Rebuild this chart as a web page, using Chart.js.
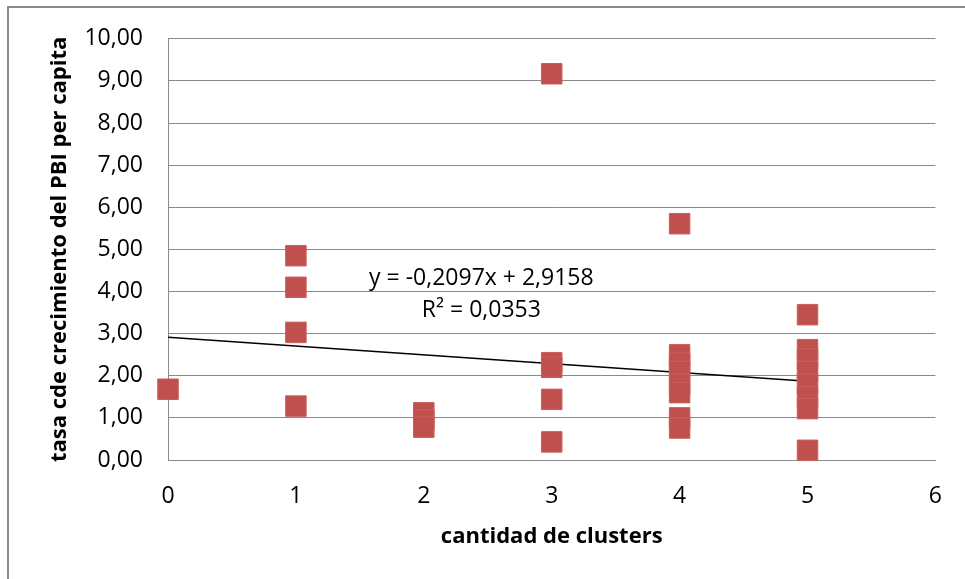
<!DOCTYPE html>
<html>
<head>
<meta charset="utf-8">
<script src="https://cdn.jsdelivr.net/npm/chart.js@4"></script>
<style>
  html, body { margin: 0; padding: 0; background: #fff; }
  #wrap { width: 965px; height: 579px; position: relative; }
</style>
</head>
<body>
<div id="wrap"><canvas id="clusterChart" width="965" height="579"></canvas></div>
<script>
// cantidad de clusters (x) y tasa de crecimiento del PBI per capita (y)
const clusters = [0, 1, 1, 1, 1, 2, 2, 2, 3, 3, 3, 3, 3, 4, 4, 4, 4, 4, 4, 4, 4, 5, 5, 5, 5, 5, 5, 5, 5];
const tasas = [1.68, 4.85, 4.10, 3.03, 1.28, 1.12, 0.95, 0.78, 9.17, 2.31, 2.20, 1.44, 0.43,
  5.61, 2.50, 2.30, 2.10, 1.80, 1.60, 1.00, 0.76, 3.45, 2.62, 2.40, 2.10, 1.80, 1.50, 1.22, 0.23];
// linea de tendencia lineal (extremos)
const trendX = [0, 5];
const trendY = [2.9158, 1.8673];
const ecuacion = ['y = -0,2097x + 2,9158', 'R\u00b2 = 0,0353'];
const yTicks = [0, 1, 2, 3, 4, 5, 6, 7, 8, 9, 10];

const FONT = '"Open Sans", "Liberation Sans", sans-serif';

const framePlugin = {
  id: 'frame',
  beforeDraw(chart) {
    const ctx = chart.ctx;
    ctx.save();
    ctx.strokeStyle = '#8a8a8a';
    ctx.lineWidth = 2;
    ctx.beginPath();
    ctx.moveTo(8, 579);
    ctx.lineTo(8, 7);
    ctx.lineTo(965, 7);
    ctx.stroke();
    ctx.restore();
  },
  afterDatasetsDraw(chart) {
    const ctx = chart.ctx;
    const xs = chart.scales.x, ys = chart.scales.y;
    ctx.save();
    ctx.fillStyle = '#000';
    ctx.font = '23px ' + FONT;
    ctx.textAlign = 'center';
    ctx.textBaseline = 'middle';
    ctx.fillText(ecuacion[0], xs.getPixelForValue(2.45), ys.getPixelForValue(4.3));
    ctx.fillText(ecuacion[1], xs.getPixelForValue(2.45), ys.getPixelForValue(3.55));
    ctx.restore();
  }
};

const points = clusters.map((c, i) => ({ x: c, y: tasas[i] }));
const trend = trendX.map((c, i) => ({ x: c, y: trendY[i] }));

new Chart(document.getElementById('clusterChart').getContext('2d'), {
  type: 'scatter',
  data: {
    datasets: [{
      label: 'tasa',
      data: points,
      pointStyle: 'rect',
      pointRadius: 14.5,
      pointHoverRadius: 14.5,
      backgroundColor: '#c0504d',
      borderColor: '#c85f5c',
      borderWidth: 1,
      clip: false
    }, {
      label: 'tendencia',
      type: 'line',
      data: trend,
      borderColor: '#000',
      borderWidth: 1.5,
      pointRadius: 0,
      fill: false
    }]
  },
  options: {
    responsive: false,
    animation: false,
    layout: { padding: { left: 40, top: 38, right: 25, bottom: 20 } },
    plugins: { legend: { display: false }, tooltip: { enabled: false } },
    scales: {
      x: {
        type: 'linear',
        min: 0,
        max: 6,
        ticks: { stepSize: 1, padding: 23, color: '#000', font: { family: FONT, size: 23 } },
        grid: { display: false, drawTicks: false },
        border: { display: true, color: '#8a8a8a' },
        title: {
          display: true,
          text: 'cantidad de clusters',
          color: '#000',
          font: { family: FONT, size: 22, weight: 'bold' },
          padding: { top: 4, bottom: 9 }
        },
        afterFit(s) { s.height = 99; }
      },
      y: {
        min: 0,
        max: 10,
        afterBuildTicks(s) { s.ticks = yTicks.map(v => ({ value: v })); },
        ticks: {
          padding: 25,
          color: '#000',
          font: { family: FONT, size: 23 },
          callback: v => v.toFixed(2).replace('.', ',')
        },
        grid: { color: '#8a8a8a', lineWidth: 1, drawTicks: false },
        border: { display: true, color: '#8a8a8a' },
        title: {
          display: true,
          text: 'tasa cde crecimiento del PBI per capita',
          color: '#000',
          font: { family: FONT, size: 22, weight: 'bold' },
          padding: { top: 7, bottom: 4 }
        },
        afterFit(s) { s.width = 128; }
      }
    }
  },
  plugins: [framePlugin]
});
</script>
</body>
</html>
